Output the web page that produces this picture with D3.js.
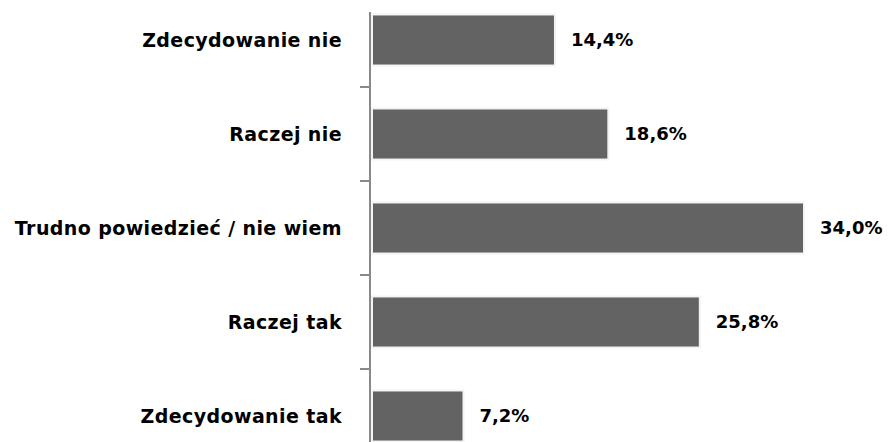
<!DOCTYPE html>
<html>
<head>
<meta charset="utf-8">
<script src="https://cdn.jsdelivr.net/npm/d3@7"></script>
<style>
  body { margin: 0; background: #fff; }
  text { font-family: "DejaVu Sans", Verdana, sans-serif; font-weight: bold; }
</style>
</head>
<body>
<script>
'use strict';

// chart data, top to bottom
let categories = ["Zdecydowanie nie", "Raczej nie", "Trudno powiedzieć / nie wiem", "Raczej tak", "Zdecydowanie tak"];
let values = [14.4, 18.6, 34.0, 25.8, 7.2];
let valueLabels = ["14,4%", "18,6%", "34,0%", "25,8%", "7,2%"];

let width = 889, height = 442;

let svg = d3.select('body')
  .append('svg')
  .attr('width', width)
  .attr('height', height);

// scales
let xScale = d3.scaleLinear()
  .domain([0, 34])
  .range([372, 804]);

let yScale = d3.scaleBand()
  .domain(categories)
  .range([-7, 463])
  .paddingInner(0.457)
  .paddingOuter(0.2285);

let rows = categories.map((c, i) => ({ cat: c, val: values[i], label: valueLabels[i] }));

// bars with a faint light edge
svg.selectAll('.bar')
  .data(rows)
  .enter()
  .append('rect')
    .attr('class', 'bar')
    .attr('x', xScale(0))
    .attr('y', (d) => yScale(d.cat))
    .attr('width', (d) => xScale(d.val) - xScale(0))
    .attr('height', yScale.bandwidth())
    .attr('fill', '#636363')
    .attr('stroke', '#f3f3f3')
    .attr('stroke-width', 2);

// vertical axis line and ticks between categories
let axisX = 370;
svg.append('line')
  .attr('x1', axisX).attr('x2', axisX)
  .attr('y1', 12).attr('y2', height)
  .attr('stroke', '#898989')
  .attr('stroke-width', 2);

let step = yScale.step();
let tickYs = d3.range(1, categories.length).map((k) => yScale.range()[0] + k * step);
svg.selectAll('.tick')
  .data(tickYs)
  .enter()
  .append('line')
    .attr('x1', axisX - 10).attr('x2', axisX)
    .attr('y1', (d) => d).attr('y2', (d) => d)
    .attr('stroke', '#898989')
    .attr('stroke-width', 2);

// category labels
svg.selectAll('.cat')
  .data(rows)
  .enter()
  .append('text')
    .attr('x', 342)
    .attr('y', (d) => yScale(d.cat) + yScale.bandwidth() / 2)
    .attr('dy', '0.35em')
    .attr('text-anchor', 'end')
    .style('font-size', '19px')
    .style('letter-spacing', '0.4px')
    .text((d) => d.cat);

// value labels
svg.selectAll('.val')
  .data(rows)
  .enter()
  .append('text')
    .attr('x', (d) => xScale(d.val) + 16)
    .attr('y', (d) => yScale(d.cat) + yScale.bandwidth() / 2)
    .attr('dy', '0.35em')
    .style('font-size', '18px')
    .text((d) => d.label);
</script>
</body>
</html>
